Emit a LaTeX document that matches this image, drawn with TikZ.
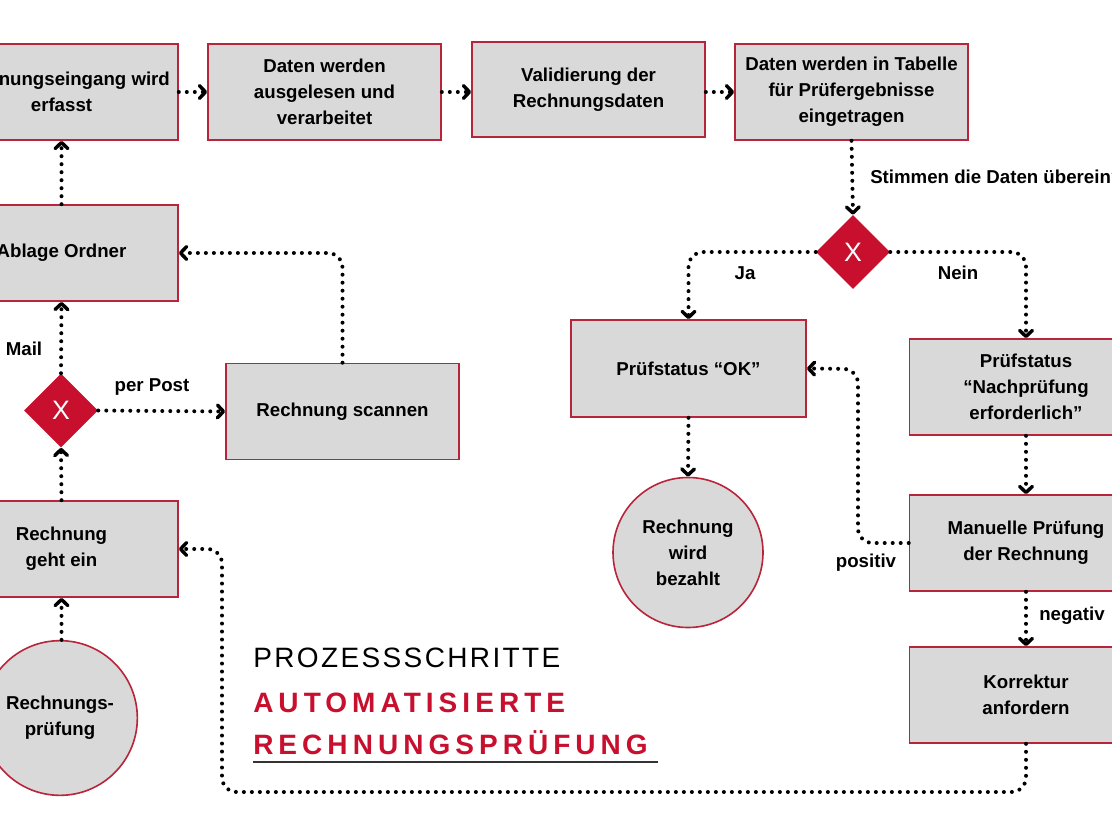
\documentclass[tikz,border=0pt]{standalone}
\usepackage{fontspec}
\setmainfont{Liberation Sans}
\newfontfamily\titlelight[LetterSpace=8.5]{Liberation Sans}
\newfontfamily\titlebold[LetterSpace=18]{Liberation Sans}
\usetikzlibrary{arrows.meta,shapes.geometric}
\definecolor{boxfill}{HTML}{D9D9D9}
\definecolor{boxred}{HTML}{B8243A}
\definecolor{dred}{HTML}{C8102E}
\definecolor{uline}{HTML}{333333}
\tikzset{
  stepbox/.style={draw=boxred, fill=boxfill, line width=1.2pt, minimum width=174.75pt, minimum height=72pt, inner sep=0pt, align=center, font=\bfseries\fontsize{14}{19.5}\selectfont},
  endcircle/.style={draw=boxred, fill=boxfill, line width=1.2pt, circle, inner sep=0pt, align=center, font=\bfseries\fontsize{14}{19.5}\selectfont},
  gate/.style={diamond, fill=dred, draw=none, minimum width=55.5pt, minimum height=55.5pt, inner sep=0pt, text=white, font=\fontsize{20}{22}\selectfont},
  flow/.style={line width=3pt, dash pattern=on 0pt off 6pt, line cap=round, rounded corners=11pt,
     -{Straight Barb[length=4.5pt,width=9.5pt,line width=2.6pt,round]}},
  lbl/.style={font=\bfseries\fontsize{14}{19.5}\selectfont, inner sep=0pt}
}
\begin{document}
\begin{tikzpicture}[x=0.75pt,y=-0.75pt]
\clip (0,0) rectangle (1112,834);
\fill[white] (0,0) rectangle (1112,834);
% boxes
\node[stepbox] (A) at (61.5,92) {Rechnungseingang wird\\erfasst};
\node[stepbox] (B) at (324.5,92) {Daten werden\\ausgelesen und\\verarbeitet};
\node[stepbox, minimum height=71.25pt] (C) at (588.5,89.5) {Validierung der\\Rechnungsdaten};
\node[stepbox] (D) at (851.5,92) {Daten werden in Tabelle\\für Prüfergebnisse\\eingetragen};
\node[stepbox] (ABL) at (61.5,253) {Ablage Ordner};
\node[gate] (G1) at (61,410.5) {X};
\node[stepbox] (SCAN) at (342.5,411.5) {Rechnung scannen};
\node[stepbox] (RGE) at (61.5,549) {Rechnung\\geht ein};
\node[endcircle, minimum size=116pt] (C1) at (60,718) {Rechnungs-\\prüfung};
\node[gate] (G2) at (853,252) {X};
\node[stepbox, minimum width=176.25pt, minimum height=72.75pt] (OK) at (688.5,368.5) {Prüfstatus “OK”};
\node[endcircle, minimum size=112.5pt] (C2) at (688,552.5) {Rechnung\\wird\\bezahlt};
\node[stepbox] (NACH) at (1026,387) {Prüfstatus\\“Nachprüfung\\erforderlich”};
\node[stepbox] (MAN) at (1026,543) {Manuelle Prüfung\\der Rechnung};
\node[stepbox] (KOR) at (1026,695) {Korrektur\\anfordern};
\coordinate (posturn) at (858,369);
\coordinate (loopbl) at (222,792);
% connectors
\draw[flow] (A.east) -- (B.west);
\draw[flow] (B.east) -- (C.west |- B.east);
\draw[flow] (C.east |- B.east) -- (D.west);
\draw[flow] (D.south) -- (G2.north);
\draw[flow] (G2.west) -| (OK.north);
\draw[flow] (G2.east) -| (NACH.north);
\draw[flow] (NACH.south) -- (MAN.north);
\draw[flow] (MAN.west) -| (posturn) -- (OK.east);
\draw[flow] (MAN.south) -- (KOR.north);
\draw[flow] (KOR.south) |- (loopbl) |- (RGE.east);
\draw[flow] (OK.south) -- (C2.north);
\draw[flow] (C1.north -| RGE.south) -- (RGE.south);
\draw[flow] (RGE.north) -- (G1.south);
\draw[flow] (G1.east) -- (SCAN.west);
\draw[flow] (G1.north) -- (ABL.south);
\draw[flow] (SCAN.north) |- (ABL.east);
\draw[flow] (ABL.north) -- (A.south);
% labels
\node[lbl, anchor=west] (q) at (870,177) {Stimmen die Daten überein?};
\node[lbl] (ja) at (745,273) {Ja};
\node[lbl] (nein) at (958,273) {Nein};
\node[lbl] (pos) at (866,563) {positiv};
\node[lbl, anchor=west] (neg) at (1039,616) {negativ};
\node[lbl] (post) at (152,387) {per Post};
\node[lbl] (mail) at (24,349) {Mail};
% title
\node[anchor=base west, inner sep=0pt, font=\titlelight\fontsize{21}{21}\selectfont] (t1) at (253,667) {PROZESSSCHRITTE};
\node[anchor=base west, inner sep=0pt, text=dred, font=\titlebold\bfseries\fontsize{21}{21}\selectfont] (t2) at (253,712) {AUTOMATISIERTE};
\node[anchor=base west, inner sep=0pt, text=dred, font=\titlebold\bfseries\fontsize{21}{21}\selectfont] (t3) at (253,754) {RECHNUNGSPRÜFUNG};
\draw[uline, line width=1pt] (253,762) -- (658,762);
\end{tikzpicture}
\end{document}
